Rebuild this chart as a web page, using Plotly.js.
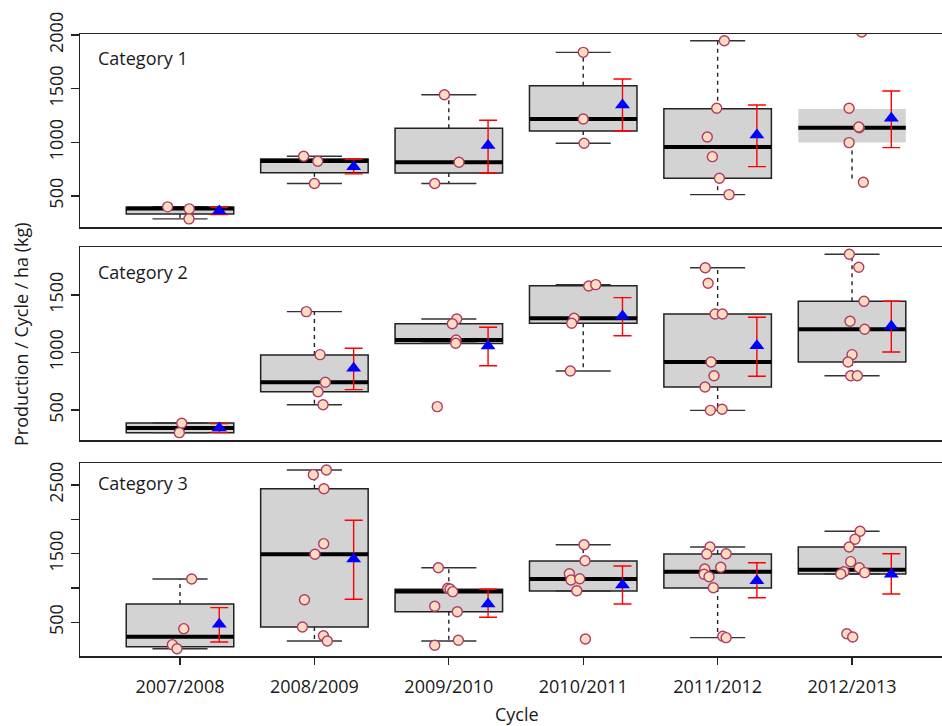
<!DOCTYPE html>
<html>
<head>
<meta charset="utf-8">
<script src="https://cdn.plot.ly/plotly-3.0.1.min.js"></script>
<style>
  html, body { margin: 0; padding: 0; overflow: hidden; background: #fff; }
  #chart { width: 946px; height: 726px; }
</style>
</head>
<body>
<div id="chart"></div>
<script>
// ---------- DATA ----------
const cycles = ['2007/2008', '2008/2009', '2009/2010', '2010/2011', '2011/2012', '2012/2013'];
const panelNames = ['Category 1', 'Category 2', 'Category 3'];

// Category 1
const cat1Lower  = [286, 615, 615, 991, 512, 628];
const cat1Q1     = [332, 717, 714, 1106, 665, 997];
const cat1Median = [382, 826, 814, 1217, 957, 1136];
const cat1Q3     = [395, 845, 1131, 1528, 1313, 1311];
const cat1Upper  = [400, 870, 1444, 1839, 1947, 1311];
const cat1Mean   = [360, 773, 969, 1348, 1068, 1224];
const cat1ErrLo  = [325, 705, 714, 1106, 773, 950];
const cat1ErrHi  = [392, 842, 1205, 1590, 1348, 1478];
const cat1Points = [
  [398, 379, 286],
  [870, 823, 615],
  [1444, 814, 615],
  [1839, 1217, 991],
  [1947, 1317, 1050, 866, 665, 512],
  [1317, 1136, 1143, 997, 628, 2028]
];
const cat1Jitter = [
  [-0.092, 0.069, 0.067],
  [-0.08, 0.025, 0.0],
  [-0.033, 0.076, -0.105],
  [0.0, 0.0, 0.006],
  [0.05, -0.007, -0.077, -0.039, 0.013, 0.085],
  [-0.022, 0.054, 0.05, -0.022, 0.084, 0.072]
];

// Category 2
const cat2Lower  = [303, 546, 1080, 839, 497, 798];
const cat2Q1     = [303, 659, 1077, 1254, 700, 917];
const cat2Median = [343, 741, 1109, 1297, 917, 1202];
const cat2Q3     = [387, 978, 1250, 1580, 1335, 1445];
const cat2Upper  = [387, 1355, 1291, 1590, 1737, 1854];
const cat2Mean   = [343, 863, 1057, 1317, 1059, 1229];
const cat2ErrLo  = [305, 677, 885, 1146, 793, 1004];
const cat2ErrHi  = [382, 1037, 1219, 1477, 1306, 1445];
const cat2Points = [
  [384, 303],
  [1355, 981, 741, 659, 546],
  [1291, 1250, 1109, 1080, 529],
  [1578, 1590, 1297, 1254, 839],
  [1737, 1602, 1335, 1335, 917, 798, 700, 497, 506],
  [1854, 1741, 1445, 1271, 1202, 981, 917, 798, 798]
];
const cat2Jitter = [
  [0.013, -0.005],
  [-0.06, 0.042, 0.081, 0.027, 0.064],
  [0.059, 0.026, 0.054, 0.051, -0.086],
  [0.041, 0.093, -0.068, -0.086, -0.096],
  [-0.092, -0.071, -0.019, 0.035, -0.049, -0.027, -0.094, -0.054, 0.033],
  [-0.02, 0.05, 0.089, -0.015, 0.094, 0.0, -0.03, -0.01, 0.039]
];

// Category 3
const cat3Lower  = [115, 228, 228, 956, 276, 1204];
const cat3Q1     = [145, 432, 654, 956, 1000, 1204];
const cat3Median = [291, 1491, 950, 1131, 1237, 1266];
const cat3Q3     = [767, 2446, 980, 1393, 1495, 1597];
const cat3Upper  = [1131, 2719, 1295, 1630, 1597, 1826];
const cat3Mean   = [471, 1422, 767, 1043, 1106, 1200];
const cat3ErrLo  = [213, 835, 573, 767, 858, 912];
const cat3ErrHi  = [713, 1986, 981, 1320, 1368, 1499];
const cat3Points = [
  [1131, 407, 174, 115],
  [2650, 2719, 2446, 1645, 1491, 829, 432, 305, 228],
  [1295, 995, 985, 946, 733, 654, 238, 165],
  [1630, 1397, 1208, 1116, 1135, 960, 257],
  [1597, 1495, 1499, 1276, 1301, 1199, 1164, 1004, 296, 276],
  [1826, 1709, 1597, 1383, 1295, 1223, 1237, 1204, 334, 286]
];
const cat3Jitter = [
  [0.087, 0.028, -0.057, -0.022],
  [-0.008, 0.089, 0.071, 0.069, 0.004, -0.074, -0.089, 0.067, 0.096],
  [-0.078, -0.008, 0.009, 0.029, -0.105, 0.063, 0.071, -0.105],
  [0.006, 0.013, -0.103, -0.091, -0.026, -0.048, 0.016],
  [-0.057, -0.081, 0.063, -0.096, 0.023, -0.101, -0.064, -0.032, 0.038, 0.063],
  [0.06, 0.022, -0.022, -0.01, 0.054, 0.094, -0.06, -0.084, -0.039, 0.005]
];

// axis tick values per panel
const yTicks1 = [500, 1000, 1500, 2000];
const yTicks2 = [500, 1000, 1500];
const yTicks3 = [500, 1000, 1500, 2000, 2500];
const yTickText3 = ['500', '', '1500', '', '2500'];

// ---------- STYLE / LAYOUT CONSTANTS ----------
const W = 946, H = 726;
const BOX_HALF = 0.4, STAPLE_HALF = 0.205, MEAN_OFFSET = 0.292;
const FONT = 'Open Sans, Noto Sans, sans-serif';
const INK = '#1a1a1a';
const outlineFlags = [
  [true, true, true, true, true, false],
  [true, true, true, true, true, true],
  [true, true, true, true, true, true]
];

const panels = [
  {lower: cat1Lower, q1: cat1Q1, med: cat1Median, q3: cat1Q3, upper: cat1Upper, mean: cat1Mean, lo: cat1ErrLo, hi: cat1ErrHi, pts: cat1Points, jit: cat1Jitter},
  {lower: cat2Lower, q1: cat2Q1, med: cat2Median, q3: cat2Q3, upper: cat2Upper, mean: cat2Mean, lo: cat2ErrLo, hi: cat2ErrHi, pts: cat2Points, jit: cat2Jitter},
  {lower: cat3Lower, q1: cat3Q1, med: cat3Median, q3: cat3Q3, upper: cat3Upper, mean: cat3Mean, lo: cat3ErrLo, hi: cat3ErrHi, pts: cat3Points, jit: cat3Jitter}
];

const traces = [];
panels.forEach((p, k) => {
  const xa = k === 0 ? 'x' : 'x' + (k + 1);
  const ya = k === 0 ? 'y' : 'y' + (k + 1);
  const idx = cycles.map((c, i) => i);
  const outl = outlineFlags[k];

  // boxes
  traces.push({
    type: 'bar', xaxis: xa, yaxis: ya, x: idx,
    base: p.q1, y: p.q3.map((v, i) => v - p.q1[i]),
    width: BOX_HALF * 2,
    marker: {color: '#d3d3d3', line: {color: '#222', width: outl.map(o => o ? 1.5 : 0)}},
    hoverinfo: 'skip', showlegend: false
  });

  // dashed whiskers
  const wx = [], wy = [];
  idx.forEach(i => {
    if (p.upper[i] > p.q3[i]) { wx.push(i, i, null); wy.push(p.q3[i], p.upper[i], null); }
    if (p.lower[i] < p.q1[i]) { wx.push(i, i, null); wy.push(p.q1[i], p.lower[i], null); }
  });
  traces.push({type: 'scatter', mode: 'lines', xaxis: xa, yaxis: ya, x: wx, y: wy,
    line: {color: '#222', width: 1.4, dash: '4px,4px'}, hoverinfo: 'skip', showlegend: false});

  // staples
  const sx = [], sy = [];
  idx.forEach(i => {
    if (!outl[i]) return;
    [p.upper[i], p.lower[i]].forEach(v => { sx.push(i - STAPLE_HALF, i + STAPLE_HALF, null); sy.push(v, v, null); });
  });
  traces.push({type: 'scatter', mode: 'lines', xaxis: xa, yaxis: ya, x: sx, y: sy,
    line: {color: '#333', width: 1.4}, hoverinfo: 'skip', showlegend: false});

  // medians
  const mx = [], my = [];
  idx.forEach(i => { mx.push(i - BOX_HALF, i + BOX_HALF, null); my.push(p.med[i], p.med[i], null); });
  traces.push({type: 'scatter', mode: 'lines', xaxis: xa, yaxis: ya, x: mx, y: my,
    line: {color: '#000', width: 4}, hoverinfo: 'skip', showlegend: false});

  // jittered points
  const px = [], py = [];
  p.pts.forEach((arr, i) => arr.forEach((v, j) => { px.push(i + p.jit[i][j]); py.push(v); }));
  traces.push({type: 'scatter', mode: 'markers', xaxis: xa, yaxis: ya, x: px, y: py,
    marker: {symbol: 'circle', size: 10, color: '#FFDDBE', line: {color: '#B03A67', width: 1.4}},
    hoverinfo: 'skip', showlegend: false});

  // means with error bars
  traces.push({type: 'scatter', mode: 'markers', xaxis: xa, yaxis: ya,
    x: idx.map(i => i + MEAN_OFFSET), y: p.mean,
    marker: {symbol: 'triangle-up', size: 13, color: '#0000FF', line: {width: 0}},
    error_y: {type: 'data', symmetric: false,
      array: p.hi.map((v, i) => v - p.mean[i]),
      arrayminus: p.mean.map((v, i) => v - p.lo[i]),
      color: '#FF0000', thickness: 1.4, width: 9},
    hoverinfo: 'skip', showlegend: false});
});

// ---------- LAYOUT ----------
const plotLeft = 80;
const dom = (top, bottom) => [1 - bottom / H, 1 - top / H];
const xRange = [-0.744, 5.699];

function xAxis(k, showLabels) {
  return {
    domain: [plotLeft / W, 1], range: xRange, anchor: k === 0 ? 'y' : 'y' + (k + 1),
    showline: true, mirror: true, linecolor: '#222', linewidth: 1.5,
    showgrid: false, zeroline: false, fixedrange: true,
    tickmode: 'array', tickvals: cycles.map((c, i) => i), ticktext: cycles,
    ticks: showLabels ? 'outside' : '', ticklen: 7, tickwidth: 1.3, tickcolor: '#222',
    showticklabels: showLabels, ticklabelstandoff: 7,
    tickfont: {family: FONT, size: 18, color: INK},
    automargin: false
  };
}
function yAxis(k, d, range, vals, text) {
  return {
    domain: d, range: range, anchor: k === 0 ? 'x' : 'x' + (k + 1),
    showline: true, mirror: true, linecolor: '#222', linewidth: 1.5,
    showgrid: false, zeroline: false, fixedrange: true,
    tickmode: 'array', tickvals: vals, ticktext: text || vals.map(String),
    ticks: 'outside', ticklen: 8, tickwidth: 1.3, tickcolor: '#222',
    tickangle: -90, tickfont: {family: FONT, size: 18, color: INK},
    automargin: false
  };
}

const layout = {
  width: W, height: H,
  margin: {l: 0, r: 0, t: 0, b: 0},
  paper_bgcolor: '#fff', plot_bgcolor: '#fff',
  font: {family: FONT, color: INK, size: 18},
  showlegend: false,
  barmode: 'overlay',
  xaxis: xAxis(0, false),
  xaxis2: xAxis(1, false),
  xaxis3: xAxis(2, true),
  yaxis: yAxis(0, dom(34, 227), [210, 2010], yTicks1),
  yaxis2: yAxis(1, dom(247, 440), [239, 1917], yTicks2),
  yaxis3: yAxis(2, dom(463, 656), [9, 2820], yTicks3, yTickText3),
  annotations: [
    {text: panelNames[0], xref: 'paper', yref: 'paper', x: 96 / W, y: 1 - 58 / H, xanchor: 'left', yanchor: 'middle', showarrow: false, font: {family: FONT, size: 18, color: INK}},
    {text: panelNames[1], xref: 'paper', yref: 'paper', x: 96 / W, y: 1 - 272 / H, xanchor: 'left', yanchor: 'middle', showarrow: false, font: {family: FONT, size: 18, color: INK}},
    {text: panelNames[2], xref: 'paper', yref: 'paper', x: 96 / W, y: 1 - 483 / H, xanchor: 'left', yanchor: 'middle', showarrow: false, font: {family: FONT, size: 18, color: INK}},
    {text: 'Production / Cycle / ha (kg)', xref: 'paper', yref: 'paper', x: 21 / W, y: 1 - 334 / H, xanchor: 'center', yanchor: 'middle', textangle: -90, showarrow: false, font: {family: FONT, size: 18, color: INK}},
    {text: 'Cycle', xref: 'paper', yref: 'paper', x: 517 / W, y: 1 - 714 / H, xanchor: 'center', yanchor: 'middle', showarrow: false, font: {family: FONT, size: 18, color: INK}}
  ]
};

Plotly.newPlot('chart', traces, layout, {staticPlot: true, displayModeBar: false});
</script>
</body>
</html>
